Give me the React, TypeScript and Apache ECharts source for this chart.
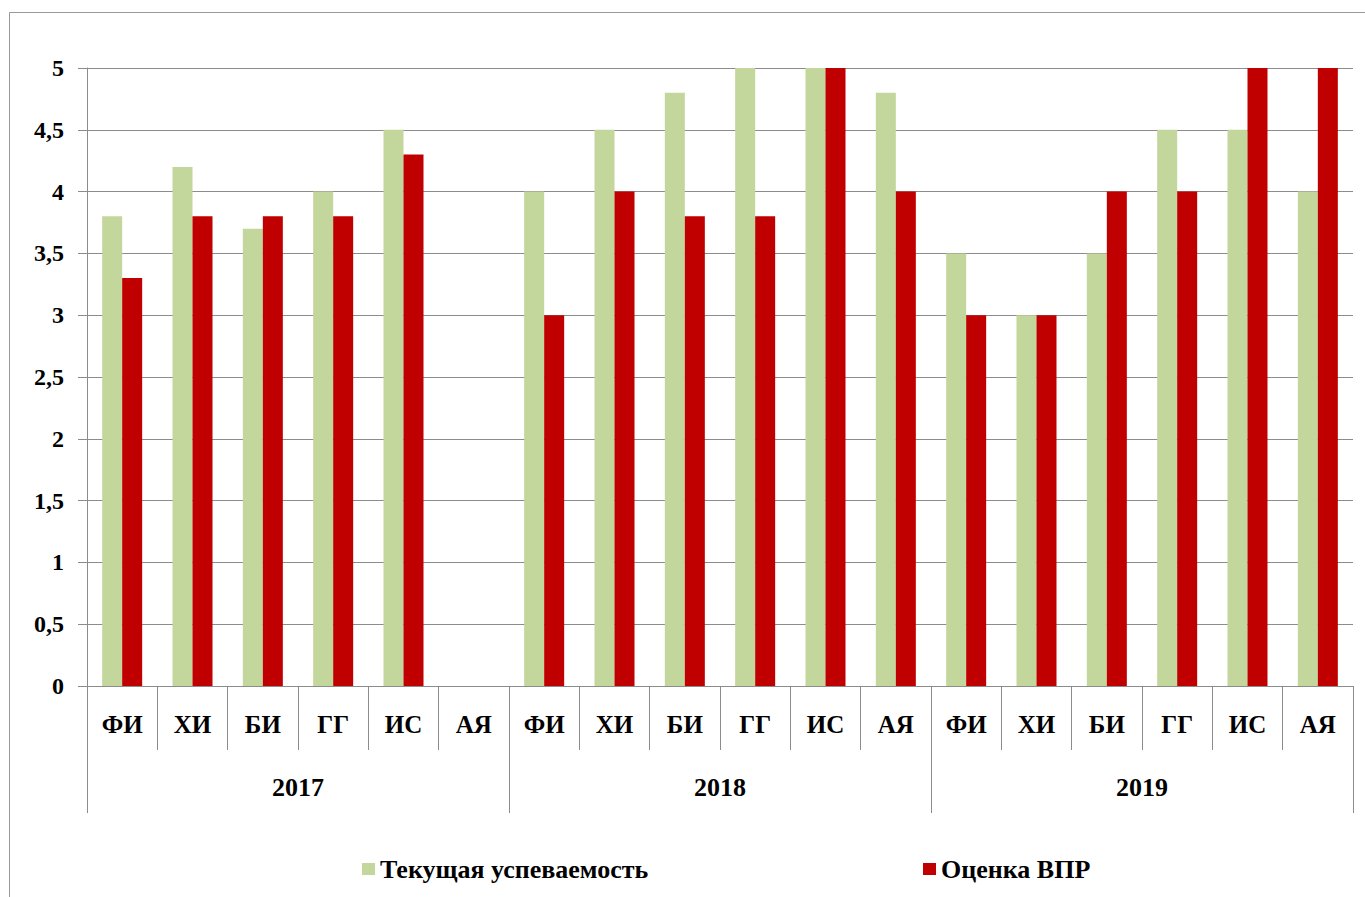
import React, { useEffect, useRef } from "react";
import * as echarts from "echarts";

const subjects = ["ФИ", "ХИ", "БИ", "ГГ", "ИС", "АЯ"];
const years = ["2017", "2018", "2019"];
const categories = years.flatMap(() => subjects);
const currentGrades: (number | null)[] = [
  3.8, 4.2, 3.7, 4.0, 4.5, null,
  4.0, 4.5, 4.8, 5.0, 5.0, 4.8,
  3.5, 3.0, 3.5, 4.5, 4.5, 4.0,
];
const vprGrades: (number | null)[] = [
  3.3, 3.8, 3.8, 3.8, 4.3, null,
  3.0, 4.0, 3.8, 3.8, 5.0, 4.0,
  3.0, 3.0, 4.0, 4.0, 5.0, 5.0,
];
const seriesNames = ["Текущая успеваемость", "Оценка ВПР"];
const colors = ["#c3d69b", "#c00000"];

const FONT = "Liberation Serif";
const GRAY = "#8c8c8c";

export default function App() {
  const ref = useRef<HTMLDivElement>(null);
  useEffect(() => {
    if (!ref.current) return;
    const chart = echarts.init(ref.current, undefined, { renderer: "svg" });
    const legendText = { fontFamily: FONT, fontWeight: "bold", fontSize: 26, color: "#000" };
    chart.setOption({
      animation: false,
      backgroundColor: "#fff",
      textStyle: { fontFamily: FONT },
      graphic: [
        {
          type: "rect",
          shape: { x: 9.5, y: 12.5, width: 1400, height: 1000 },
          style: { fill: "none", stroke: "#999", lineWidth: 1 },
          silent: true,
        },
      ],
      grid: { left: 87, right: 12, top: 68, bottom: 211, containLabel: false },
      legend: [
        {
          data: [seriesNames[0]],
          left: 362,
          top: 856,
          padding: 0,
          icon: "rect",
          itemWidth: 13,
          itemHeight: 12,
          textStyle: legendText,
        },
        {
          data: [seriesNames[1]],
          left: 923,
          top: 856,
          padding: 0,
          icon: "rect",
          itemWidth: 13,
          itemHeight: 12,
          textStyle: legendText,
        },
      ],
      xAxis: [
        {
          type: "category",
          data: categories,
          position: "bottom",
          axisLine: { show: true, lineStyle: { color: GRAY } },
          axisTick: { show: true, length: 64, interval: 0, lineStyle: { color: GRAY } },
          axisLabel: {
            interval: 0,
            margin: 26,
            fontSize: 25,
            fontWeight: "bold",
            color: "#000",
            fontFamily: FONT,
          },
          splitLine: { show: false },
        },
        {
          type: "category",
          data: years,
          position: "bottom",
          axisLine: { show: false },
          axisTick: { show: true, length: 127, interval: 0, lineStyle: { color: GRAY } },
          axisLabel: {
            interval: 0,
            margin: 88,
            fontSize: 26,
            fontWeight: "bold",
            color: "#000",
            fontFamily: FONT,
          },
          splitLine: { show: false },
        },
      ],
      yAxis: {
        type: "value",
        min: 0,
        max: 5,
        interval: 0.5,
        axisLine: { show: true, lineStyle: { color: GRAY } },
        axisTick: { show: true, length: 9, lineStyle: { color: GRAY } },
        axisLabel: {
          margin: 23,
          fontSize: 24,
          fontWeight: "bold",
          color: "#000",
          fontFamily: FONT,
          formatter: (v: number) => String(v).replace(".", ","),
        },
        splitLine: { show: true, lineStyle: { color: GRAY, width: 1 } },
      },
      series: [
        {
          name: seriesNames[0],
          type: "bar",
          data: currentGrades,
          barWidth: 20,
          barGap: "0%",
          itemStyle: { color: colors[0] },
        },
        {
          name: seriesNames[1],
          type: "bar",
          data: vprGrades,
          barWidth: 20,
          barGap: "0%",
          itemStyle: { color: colors[1] },
        },
      ],
    });
    return () => chart.dispose();
  }, []);
  return (
    <div
      ref={ref}
      style={{ position: "fixed", left: 0, top: 0, width: 1365, height: 897 }}
    />
  );
}
